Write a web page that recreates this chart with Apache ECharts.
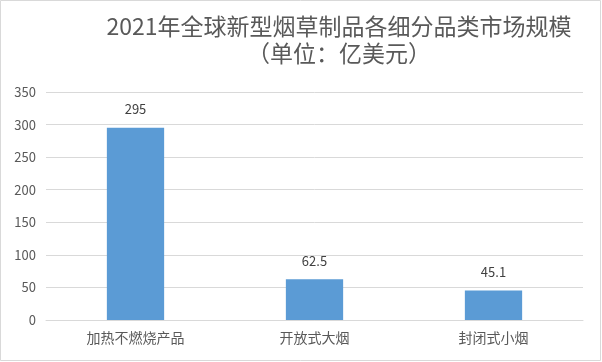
<!DOCTYPE html>
<html><head><meta charset="utf-8">
<script src="https://cdn.jsdelivr.net/npm/echarts@6/dist/echarts.min.js"></script>
<style>html,body{margin:0;padding:0;background:#fff}#c{width:602px;height:362px}</style>
</head><body><div id="c"></div>
<script>
const titleLines = ['2021年全球新型烟草制品各细分品类市场规模', '（单位：亿美元）'];
const categories = ['加热不燃烧产品', '开放式大烟', '封闭式小烟'];
const values = [295, 62.5, 45.1];
const yTicks = { min: 0, max: 350, interval: 50 };

const font = '"Microsoft YaHei", "Noto Sans CJK SC", sans-serif';
const chart = echarts.init(document.getElementById('c'), null, { renderer: 'canvas' });
chart.setOption({
  animation: false,
  backgroundColor: '#fff',
  textStyle: { fontFamily: font },
  title: {
    text: titleLines.join('\n'),
    left: 334, top: 8, textAlign: 'center',
    textStyle: { fontSize: 23, fontWeight: 'normal', color: '#595959', lineHeight: 27, fontFamily: font }
  },
  graphic: [{ type: 'rect', shape: { x: 0.5, y: 0.5, width: 600, height: 360 }, style: { fill: 'none', stroke: '#d9d9d9', lineWidth: 1 }, silent: true }],
  grid: { left: 46, right: 19, top: 92, bottom: 42, containLabel: false },
  xAxis: {
    type: 'category', data: categories,
    axisLine: { lineStyle: { color: '#d9d9d9' } },
    axisTick: { show: false },
    axisLabel: { color: '#595959', fontSize: 14, margin: 11, fontFamily: font }
  },
  yAxis: {
    type: 'value', min: yTicks.min, max: yTicks.max, interval: yTicks.interval,
    axisLine: { show: false }, axisTick: { show: false },
    splitLine: { lineStyle: { color: '#d9d9d9' } },
    axisLabel: { color: '#595959', fontSize: 13, margin: 10, fontFamily: font }
  },
  series: [{
    type: 'bar', data: values, barWidth: '32%',
    itemStyle: { color: '#5b9bd5' },
    label: { show: true, position: 'top', distance: 12, color: '#404040', fontSize: 13, fontFamily: font }
  }]
});
</script></body></html>
